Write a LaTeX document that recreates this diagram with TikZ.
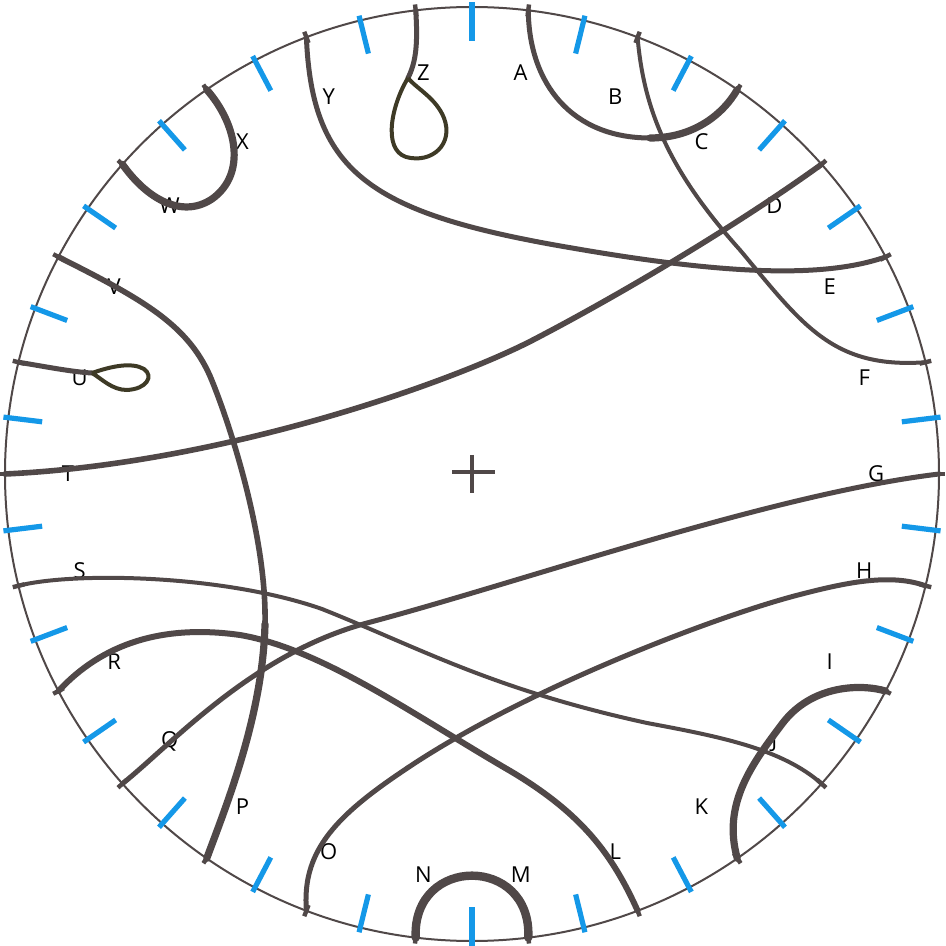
\documentclass[tikz,border=0pt]{standalone}
\usepackage{fontspec}
\setmainfont{Open Sans}
\usepackage{tikz}

\definecolor{ink}{RGB}{80,72,72}
\definecolor{olive}{RGB}{62,58,38}
\definecolor{tickblue}{RGB}{20,152,232}

\begin{document}
\begin{tikzpicture}[x=0.5pt,y=0.5pt,
  chord/.style={draw=ink,line width=2.5pt,line cap=round},
  fat/.style={chord,line width=3.6pt},
  loopy/.style={draw=olive,line width=2pt},
  bluetick/.style={draw=tickblue,line width=2.6pt},
  lab/.style={font=\fontsize{11}{13}\selectfont}]
\useasboundingbox (-472,-472) rectangle (474,474);
\draw[ink,line width=1pt] (0,0) circle (467);
\foreach \k in {0,...,25}
  \draw[bluetick] ({90-\k*360/26}:433) -- ({90-\k*360/26}:472);
\foreach \l [count=\i] in {A,...,Z}{
  \coordinate (\l) at ({90-(\i-0.5)*360/26}:467);
  \node[lab] (l\l) at ({90-(\i-0.5)*360/26}:404) {\l};
  \draw[ink,line width=2.2pt] ({90-(\i-0.5)*360/26}:461) -- ({90-(\i-0.5)*360/26}:473);
}
% centre
\draw[ink,line width=1.6pt] (-20,2) -- (23,2) (0,19) -- (0,-19);
% chords
\draw[chord] (A) .. controls (57,390) and (100,336) .. (178,336) coordinate (ac);
\draw[fat] (ac) .. controls (220,336) and (250,358) .. (C);
\draw[chord,line width=2pt] (B) .. controls (172,360) and (200,300) .. (268,224) .. controls (330,150) and (360,105) .. (F);
\draw[chord,line width=2.8pt] (D) .. controls (260,245) and (140,175) .. (61,134) .. controls (-20,92) and (-250,10) .. (T);
\draw[chord] (Y) .. controls (-160,300) and (-100,260) .. (100,226) .. controls (250,200) and (350,195) .. (E);
\draw[chord] (Z) .. controls (-54,430) and (-56,412) .. (-64,396) coordinate (zk);
\draw[loopy] (zk) .. controls (-80,370) and (-90,325) .. (-66,317) .. controls (-40,310) and (-18,330) .. (-28,356) .. controls (-36,376) and (-55,385) .. (zk);
\draw[fat] (X) .. controls (-235,350) and (-225,300) .. (-260,275) .. controls (-290,255) and (-325,275) .. (W);
\draw[chord,line width=2.8pt] (V) .. controls (-330,175) and (-285,150) .. (-262,98) .. controls (-245,58) and (-205,-60) .. (-207,-150) coordinate (vp);
\draw[fat] (vp) .. controls (-209,-240) and (-245,-330) .. (P);
\draw[chord] (U) .. controls (-430,108) and (-400,102) .. (-380,101) coordinate (uk);
\draw[loopy] (uk) .. controls (-360,108) and (-340,112) .. (-328,105) .. controls (-318,98) and (-325,85) .. (-345,84) .. controls (-360,84) and (-370,95) .. (uk);
\draw[chord,line width=2pt] (S) .. controls (-400,-98) and (-250,-100) .. (-150,-135) .. controls (-50,-175) and (20,-215) .. (175,-249) .. controls (250,-263) and (310,-275) .. (J);
\draw[chord,line width=3pt] (R) .. controls (-370,-170) and (-310,-150) .. (-232,-161) .. controls (-150,-175) and (-60,-240) .. (40,-298) .. controls (110,-340) and (140,-380) .. (L);
\draw[chord] (Q) .. controls (-300,-270) and (-220,-180) .. (-105,-149) .. controls (50,-108) and (300,-20) .. (G);
\draw[chord] (O) .. controls (-170,-380) and (-140,-345) .. (-72,-299) .. controls (50,-215) and (250,-140) .. (330,-120) .. controls (380,-107) and (420,-100) .. (H);
\draw[fat] (I) .. controls (390,-210) and (340,-210) .. (310,-250) .. controls (280,-290) and (250,-330) .. (K);
\draw[fat,line width=4.2pt] (N) .. controls (-60,-381) and (60,-381) .. (M);
\end{tikzpicture}
\end{document}
